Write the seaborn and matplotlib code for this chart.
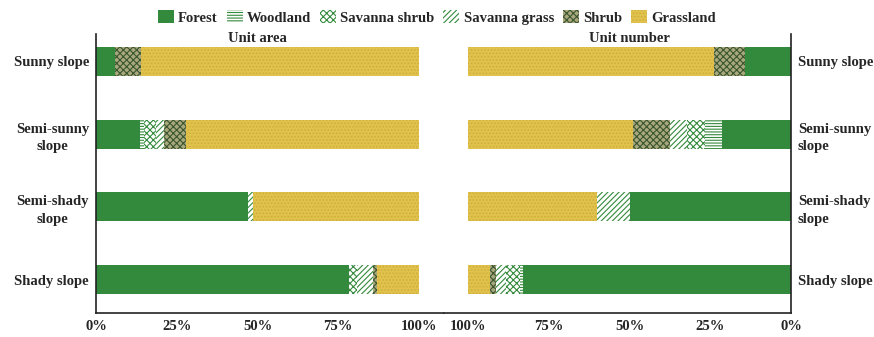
import numpy as np
import matplotlib.pyplot as plt
from matplotlib.patches import Patch
import seaborn as sns

# data (percent)
classes = ["Forest", "Woodland", "Savanna shrub", "Savanna grass", "Shrub", "Grassland"]
slopes = ["Sunny slope", "Semi-sunny\nslope", "Semi-shady\nslope", "Shady slope"]

area_forest = [6.0, 13.5, 47.0, 78.4]
area_woodland = [0.0, 1.5, 0.0, 0.0]
area_sav_shrub = [0.0, 3.5, 0.0, 2.5]
area_sav_grass = [0.0, 2.5, 1.7, 5.0]
area_shrub = [8.0, 7.0, 0.0, 1.0]
area_grass = [86.0, 72.0, 51.3, 13.1]

number_forest = [14.2, 21.5, 50.0, 83.0]
number_woodland = [0.0, 5.1, 0.0, 1.0]
number_sav_shrub = [0.0, 5.7, 0.0, 4.1]
number_sav_grass = [0.0, 5.2, 10.2, 3.1]
number_shrub = [9.6, 11.5, 0.0, 2.0]
number_grass = [76.2, 51.0, 39.8, 6.8]

tick_vals = [0, 25, 50, 75, 100]
tick_labels = ["0%", "25%", "50%", "75%", "100%"]

# styles: facecolor, hatch colour, hatch
green = "#348a3c"
styles = {
    "Forest": (green, green, None),
    "Woodland": ("white", green, "------"),
    "Savanna shrub": ("white", green, "xxxxx"),
    "Savanna grass": ("white", green, "//////"),
    "Shrub": ("#a9a87c", "#3a5530", "xxxxx"),
    "Grassland": ("#e0c24c", "#cfae3c", "....."),
}

sns.set_theme(style="white")
plt.rcParams.update({
    "font.family": ["Liberation Serif", "DejaVu Serif"],
    "font.weight": "bold",
    "hatch.linewidth": 0.8,
})

fig = plt.figure(figsize=(8.74, 3.37), dpi=100)
left, right, bottom, top = 96 / 874, 791 / 874, 1 - 312.7 / 337, 1 - 34 / 337
mid = (left + right) / 2
ax1 = fig.add_axes([left, bottom, mid - left, top - bottom])
ax2 = fig.add_axes([mid, bottom, right - mid, top - bottom])


def draw_panel(ax, series):
    cum = np.cumsum(np.array(series), axis=0)
    # draw from the outermost cumulative bar inwards so each segment shows
    for k in reversed(range(len(classes))):
        fc, hc, hatch = styles[classes[k]]
        sns.barplot(x=cum[k], y=slopes, orient="h", color=fc, saturation=1,
                    width=0.4, errorbar=None, edgecolor=hc, linewidth=0,
                    hatch=hatch, ax=ax)
    ax.set_ylim(3.454, -0.378)
    ax.set_xticks(tick_vals)
    ax.set_xticklabels(tick_labels, fontsize=10.5, fontweight="bold")
    ax.tick_params(axis="x", direction="in", length=3, width=1, color="#222222", pad=5)
    ax.tick_params(axis="y", length=0, labelsize=10.5)
    ax.set_xlabel("")
    ax.set_ylabel("")
    ax.grid(False)
    for s in ax.spines.values():
        s.set_color("#222222")
        s.set_linewidth(1.2)
    ax.spines["top"].set_visible(False)


draw_panel(ax1, [area_forest, area_woodland, area_sav_shrub, area_sav_grass, area_shrub, area_grass])
draw_panel(ax2, [number_forest, number_woodland, number_sav_shrub, number_sav_grass, number_shrub, number_grass])

ext = 100 * (mid - left) / ((419 - 96) / 874)
ax1.set_xlim(0, ext)
ax1.spines["right"].set_visible(False)
ax1.tick_params(axis="y", pad=5)
for lab in ax1.get_yticklabels():
    lab.set_fontweight("bold")
    lab.set_linespacing(1.45)
    lab.set_multialignment("center")

ax2.set_xlim(ext, 0)
ax2.spines["left"].set_visible(False)
ax2.yaxis.tick_right()
ax2.tick_params(axis="y", pad=5)
for lab in ax2.get_yticklabels():
    lab.set_fontweight("bold")
    lab.set_linespacing(1.45)
    lab.set_horizontalalignment("left")
    lab.set_multialignment("left")

ax1.text(50, 0.985, "Unit area", transform=ax1.get_xaxis_transform(),
         ha="center", va="center", fontsize=10.5, fontweight="bold")
ax2.text(50, 0.985, "Unit number", transform=ax2.get_xaxis_transform(),
         ha="center", va="center", fontsize=10.5, fontweight="bold")

handles = [Patch(facecolor=styles[c][0], edgecolor=styles[c][1], hatch=styles[c][2],
                 linewidth=0, label=c) for c in classes]
fig.legend(handles=handles, loc="center", bbox_to_anchor=(0.5, 0.948), ncol=6,
           frameon=False, handlelength=1.1, handleheight=1.0, handletextpad=0.3,
           columnspacing=0.6, prop={"weight": "bold", "size": 10.5})

fig.savefig("out.png", dpi=100)
